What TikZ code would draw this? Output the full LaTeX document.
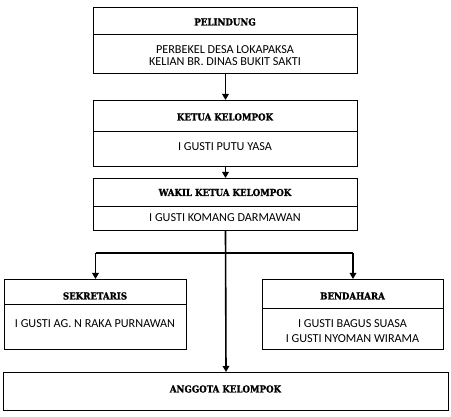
\documentclass[tikz,border=0pt]{standalone}
\usepackage{fontspec}
\setmainfont{Carlito}
\newfontfamily\titlefont[FakeBold=1.2]{DejaVu Serif Condensed Bold}
\usetikzlibrary{arrows.meta}
\begin{document}
\begin{tikzpicture}[x=1pt,y=-1pt,
  box/.style={draw, line width=1pt, inner sep=0pt, anchor=north west},
  divider/.style={line width=1pt},
  ttl/.style={inner sep=0pt, font=\titlefont\fontsize{9.6}{10}\selectfont},
  bdy/.style={inner sep=0pt, align=center, font=\fontsize{12.2}{15}\selectfont},
  link/.style={line width=1.6pt},
  conn/.style={line width=1.6pt, -{Triangle[length=6pt,width=6.5pt]}}]
\useasboundingbox[fill=white] (0,0) rectangle (451,417);
% PELINDUNG
\node[box, minimum width=264pt, minimum height=66pt] (pel) at (93,7) {};
\draw[divider] (93,35) -- (357,35);
\node[ttl] (pelt) at (225,22) {PELINDUNG};
\begin{scope}
\clip (93,36) rectangle (357,64.8);
\node[bdy, font=\fontsize{12.2}{12.3}\selectfont] (pelb) at (225,55.5) {PERBEKEL DESA LOKAPAKSA\\KELIAN BR. DINAS BUKIT SAKTI};
\end{scope}
% KETUA
\node[box, minimum width=264pt, minimum height=66pt] (ket) at (93,100) {};
\draw[divider] (93,132) -- (357,132);
\node[ttl] (kett) at (225,117) {KETUA KELOMPOK};
\node[bdy] (ketb) at (225,147) {I GUSTI PUTU YASA};
% WAKIL
\node[box, minimum width=264pt, minimum height=52pt] (wak) at (93,178) {};
\draw[divider] (93,207) -- (357,207);
\node[ttl] (wakt) at (225,192.5) {WAKIL KETUA KELOMPOK};
\begin{scope}
\clip (93,208) rectangle (357,221.2);
\node[bdy] (wakb) at (225,218) {I GUSTI KOMANG DARMAWAN};
\end{scope}
% SEKRETARIS
\node[box, minimum width=182pt, minimum height=70pt] (sek) at (4,279) {};
\draw[divider] (4,305) -- (186,305);
\node[ttl] (sekt) at (95,296) {SEKRETARIS};
\node[bdy] (sekb) at (95,324) {I GUSTI AG. N RAKA PURNAWAN};
% BENDAHARA
\node[box, minimum width=181pt, minimum height=70pt] (ben) at (262,279) {};
\draw[divider] (262,309) -- (443,309);
\node[ttl] (bent) at (352.5,296) {BENDAHARA};
\node[bdy] (benb) at (352.5,331.5) {I GUSTI BAGUS SUASA\\I GUSTI NYOMAN WIRAMA};
% ANGGOTA
\node[box, minimum width=445pt, minimum height=38pt] (ang) at (3,372) {};
\node[ttl] (angt) at (225.5,389) {ANGGOTA KELOMPOK};
% connectors
\draw[conn] (pel.south) -- (ket.north);
\draw[conn] (ket.south) -- (wak.north);
\draw[conn] (wak.south) -- (ang.north);
\coordinate (j) at (225,253);
\draw[link] (j -| sek.north) -- (j -| ben.north);
\draw[conn] (j -| sek.north) -- (sek.north);
\draw[conn] (j -| ben.north) -- (ben.north);
\end{tikzpicture}
\end{document}
